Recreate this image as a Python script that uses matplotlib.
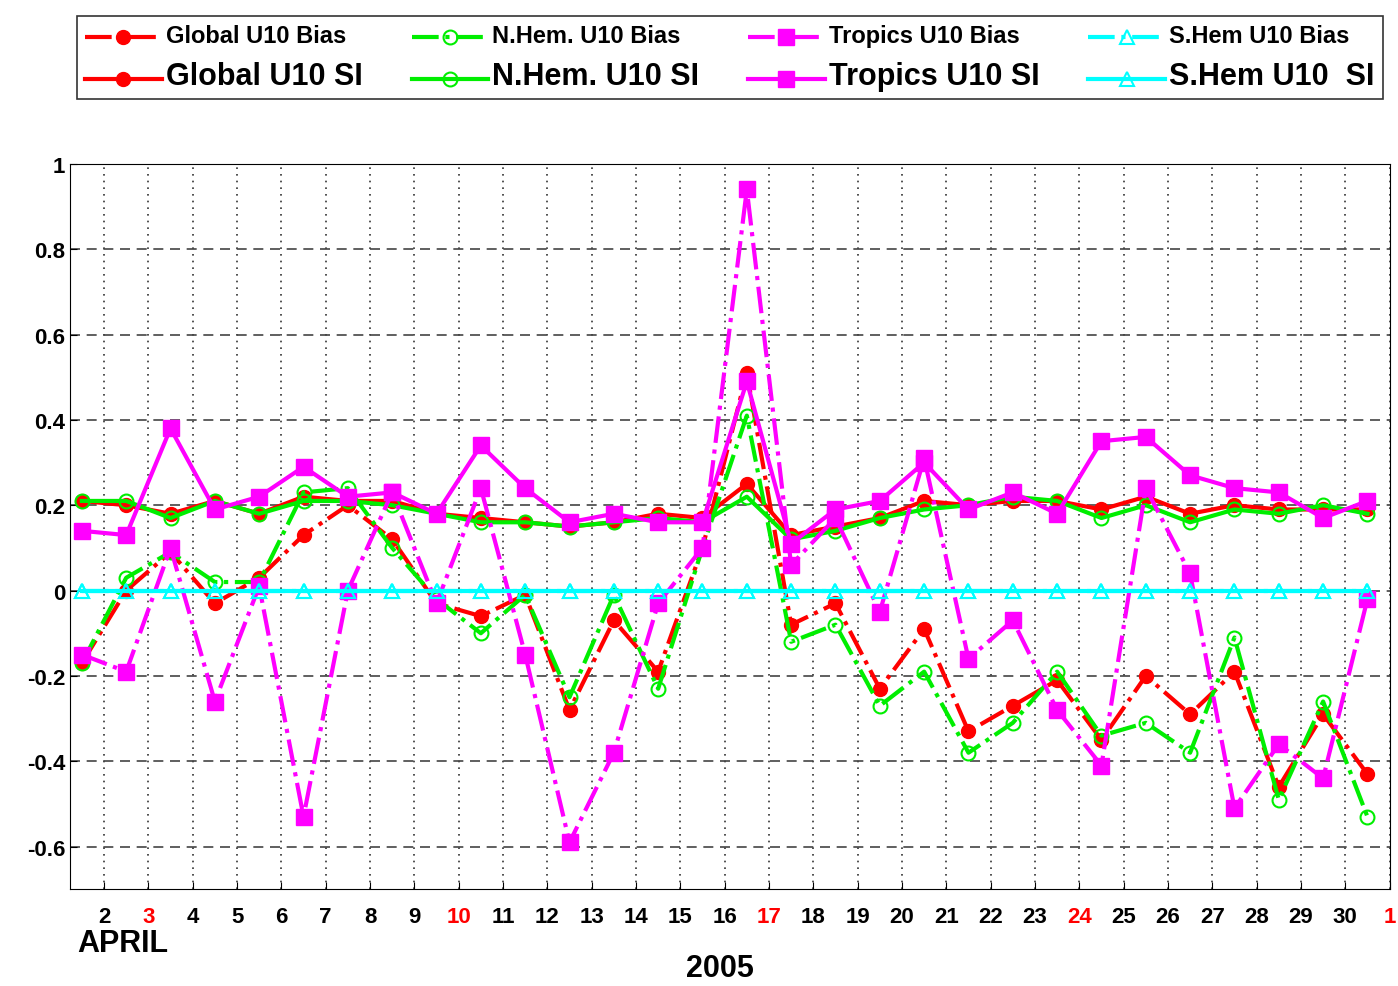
import numpy as np
import matplotlib
matplotlib.use('Agg')
import matplotlib.pyplot as plt

plt.rcParams['font.family'] = ['Liberation Sans', 'DejaVu Sans']

# days (points sit midway between day ticks)
days = np.arange(1.5, 31.0, 1.0)

global_bias = [-0.17, 0.00, 0.09, -0.03, 0.03, 0.13, 0.20, 0.12, -0.03, -0.06,
               -0.01, -0.28, -0.07, -0.19, 0.10, 0.51, -0.08, -0.03, -0.23, -0.09,
               -0.33, -0.27, -0.21, -0.35, -0.20, -0.29, -0.19, -0.46, -0.29, -0.43]
nh_bias = [-0.17, 0.03, 0.09, 0.02, 0.02, 0.23, 0.24, 0.10, -0.02, -0.10,
           -0.01, -0.25, -0.01, -0.23, 0.10, 0.41, -0.12, -0.08, -0.27, -0.19,
           -0.38, -0.31, -0.19, -0.34, -0.31, -0.38, -0.11, -0.49, -0.26, -0.53]
trop_bias = [-0.15, -0.19, 0.10, -0.26, 0.01, -0.53, 0.00, 0.23, -0.03, 0.24,
             -0.15, -0.59, -0.38, -0.03, 0.10, 0.94, 0.06, 0.17, -0.05, 0.31,
             -0.16, -0.07, -0.28, -0.41, 0.24, 0.04, -0.51, -0.36, -0.44, -0.02]
sh_bias = [0.0] * 30
global_si = [0.21, 0.20, 0.18, 0.21, 0.18, 0.22, 0.21, 0.21, 0.18, 0.17,
             0.16, 0.15, 0.16, 0.18, 0.17, 0.25, 0.13, 0.15, 0.17, 0.21,
             0.20, 0.21, 0.21, 0.19, 0.22, 0.18, 0.20, 0.19, 0.19, 0.19]
nh_si = [0.21, 0.21, 0.17, 0.21, 0.18, 0.21, 0.21, 0.20, 0.18, 0.16,
         0.16, 0.15, 0.16, 0.17, 0.16, 0.22, 0.12, 0.14, 0.17, 0.19,
         0.20, 0.22, 0.21, 0.17, 0.20, 0.16, 0.19, 0.18, 0.20, 0.18]
trop_si = [0.14, 0.13, 0.38, 0.19, 0.22, 0.29, 0.22, 0.23, 0.18, 0.34,
           0.24, 0.16, 0.18, 0.16, 0.16, 0.49, 0.11, 0.19, 0.21, 0.30,
           0.19, 0.23, 0.18, 0.35, 0.36, 0.27, 0.24, 0.23, 0.17, 0.21]
sh_si = [0.0] * 30

tick_pos = list(range(2, 32))
tick_labels = [str(d) for d in range(2, 31)] + ['1']
red_days = {3, 10, 17, 24, 31}

fig = plt.figure(figsize=(13.98, 9.87), dpi=100)
ax = fig.add_axes([0.05, 0.098, 0.944, 0.735])

lw = 3
h = []
h.append(ax.plot(days, global_bias, color='red', ls='-.', lw=lw, marker='o', ms=10,
                 mfc='red', mec='red', label='Global U10 Bias')[0])
h.append(ax.plot(days, global_si, color='red', ls='-', lw=lw, marker='o', ms=10,
                 mfc='red', mec='red', label='Global U10 SI')[0])
h.append(ax.plot(days, nh_bias, color='#00ee00', ls='-.', lw=lw, marker='o', ms=10,
                 mfc='none', mec='#00ee00', mew=1.5, label='N.Hem. U10 Bias')[0])
h.append(ax.plot(days, nh_si, color='#00ee00', ls='-', lw=lw, marker='o', ms=10,
                 mfc='none', mec='#00ee00', mew=1.5, label='N.Hem. U10 SI')[0])
h.append(ax.plot(days, trop_bias, color='magenta', ls='-.', lw=lw, marker='s', ms=11,
                 mfc='magenta', mec='magenta', label='Tropics U10 Bias')[0])
h.append(ax.plot(days, trop_si, color='magenta', ls='-', lw=lw, marker='s', ms=11,
                 mfc='magenta', mec='magenta', label='Tropics U10 SI')[0])
h.append(ax.plot(days, sh_bias, color='cyan', ls='-.', lw=lw, marker='^', ms=10,
                 mfc='none', mec='cyan', mew=1.5, label='S.Hem U10 Bias')[0])
h.append(ax.plot(days, sh_si, color='cyan', ls='-', lw=lw, marker='^', ms=10,
                 mfc='none', mec='cyan', mew=1.5, label='S.Hem U10  SI')[0])

ax.set_xlim(1.23, 31)
ax.set_ylim(-0.7, 1.0)
ax.set_xticks(tick_pos)
ax.set_xticklabels(tick_labels, fontsize=16, fontweight='bold')
for lab, d in zip(ax.get_xticklabels(), tick_pos):
    if d in red_days:
        lab.set_color('red')
ax.set_yticks(np.arange(-0.6, 1.01, 0.2))
ax.set_yticklabels(['-0.6', '-0.4', '-0.2', '0', '0.2', '0.4', '0.6', '0.8', '1'],
                   fontsize=16, fontweight='bold')
ax.xaxis.grid(True, ls=(0, (1, 3)), color='#333333', lw=1.2)
ax.yaxis.grid(True, ls=(0, (6, 4)), color='#444444', lw=1.2)
ax.tick_params(direction='in', length=5)
ax.tick_params(axis='x', pad=12)

fig.text(0.055, 0.035, 'APRIL', fontsize=22, fontweight='bold')
fig.text(0.515, 0.003, '2005', fontsize=22, fontweight='bold', ha='center', va='bottom')

leg = fig.legend(handles=h, loc='upper left', bbox_to_anchor=(0.05, 0.887, 0.944, 0.103),
                 mode='expand', ncol=4, frameon=True, fancybox=False,
                 edgecolor='black', handlelength=5.5, handletextpad=0.3,
                 borderpad=0.6, labelspacing=1.0, columnspacing=0.8)
leg.get_frame().set_linewidth(1.2)
for i, t in enumerate(leg.get_texts()):
    t.set_fontweight('bold')
    t.set_fontsize(17 if i % 2 == 0 else 22)

fig.savefig('out.png', dpi=100)
